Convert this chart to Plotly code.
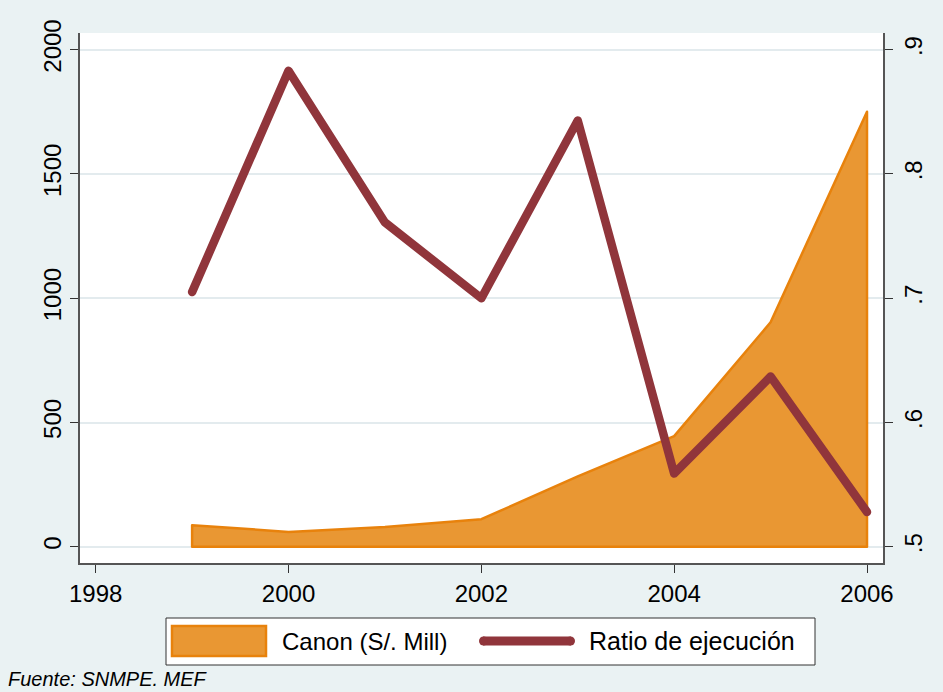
import plotly.graph_objects as go

# ---- data ----
years = [1999, 2000, 2001, 2002, 2003, 2004, 2005, 2006]
canon = [87, 60, 80, 111, 283, 445, 903, 1750]
ratio = [0.705, 0.883, 0.761, 0.700, 0.843, 0.559, 0.637, 0.528]
x_ticks = [1998, 2000, 2002, 2004, 2006]
y_ticks = [0, 500, 1000, 1500, 2000]
y2_ticks = [0.5, 0.6, 0.7, 0.8, 0.9]
y2_labels = [".5", ".6", ".7", ".8", ".9"]
legend_labels = ["Canon (S/. Mill)", "Ratio de ejecución"]
note = "Fuente: SNMPE. MEF"

# ---- style ----
W, H = 943, 692
L, R, T, B = 80, 60, 33, 129
BG = "#EAF2F3"
GRID = "#E3EBEE"
AXIS = "#555555"
FILL = "rgb(233,151,51)"
EDGE = "rgb(232,130,12)"
LINE = "rgb(144,53,59)"
FONT = "Liberation Sans, Arial, sans-serif"
FS = 24

pw, ph = W - L - R, H - T - B
def px(x):
    return (x - L) / pw
def py(y):
    return (H - B - y) / ph

fig = go.Figure()

# area (closed polygon so the outline runs around the whole shape)
poly_x = [years[0]] + years + [years[-1], years[0]]
poly_y = [0] + canon + [0, 0]
fig.add_trace(go.Scatter(
    x=poly_x, y=poly_y, mode="lines", fill="toself",
    fillcolor=FILL, line=dict(color=EDGE, width=2.5),
    name=legend_labels[0], showlegend=False, hoverinfo="skip"))

fig.add_trace(go.Scatter(
    x=years, y=ratio, mode="lines", yaxis="y2",
    line=dict(color=LINE, width=8.5),
    name=legend_labels[1], showlegend=False))

axis_common = dict(zeroline=False, showline=True, linecolor=AXIS, linewidth=1.5,
                   ticks="outside", ticklen=8, tickcolor="#333333", tickwidth=1.2,
                   tickfont=dict(size=FS))

fig.update_layout(
    width=W, height=H,
    margin=dict(l=L, r=R, t=T, b=B),
    paper_bgcolor=BG, plot_bgcolor="white",
    font=dict(family=FONT, size=FS, color="black"),
    showlegend=False,
    xaxis=dict(range=[1997.837, 2006.166], tickvals=x_ticks, showgrid=False,
               **axis_common),
    yaxis=dict(range=[-65.2, 2066.8], tickvals=y_ticks,
               showgrid=True, gridcolor=GRID, gridwidth=2,
               tickangle=-90, **axis_common),
    yaxis2=dict(range=[0.4870, 0.9134], tickvals=y2_ticks, ticktext=y2_labels,
                overlaying="y", side="right", showgrid=False,
                tickangle=-90, **axis_common),
)

# ---- manual legend ----
shapes = [
    dict(type="rect", xref="paper", yref="paper",
         x0=px(166), x1=px(815), y0=py(665), y1=py(618),
         fillcolor="white", line=dict(color="#333333", width=1)),
    dict(type="rect", xref="paper", yref="paper",
         x0=px(172), x1=px(266), y0=py(656), y1=py(626),
         fillcolor=FILL, line=dict(color=EDGE, width=2.5)),
    dict(type="line", xref="paper", yref="paper",
         x0=px(483), x1=px(571), y0=py(641), y1=py(641),
         line=dict(color=LINE, width=9)),
    dict(type="circle", xref="paper", yref="paper",
         x0=px(479), x1=px(488), y0=py(645.5), y1=py(636.5),
         fillcolor=LINE, line=dict(width=0)),
    dict(type="circle", xref="paper", yref="paper",
         x0=px(566), x1=px(575), y0=py(645.5), y1=py(636.5),
         fillcolor=LINE, line=dict(width=0)),
]
annotations = [
    dict(text=legend_labels[0], xref="paper", yref="paper",
         x=px(280), y=py(641), xanchor="left", yanchor="middle",
         showarrow=False, font=dict(size=FS)),
    dict(text=legend_labels[1], xref="paper", yref="paper",
         x=px(587), y=py(641), xanchor="left", yanchor="middle",
         showarrow=False, font=dict(size=25)),
    dict(text="<i>" + note + "</i>", xref="paper", yref="paper",
         x=px(6), y=py(679), xanchor="left", yanchor="middle",
         showarrow=False, font=dict(size=20)),
]
fig.update_layout(shapes=shapes, annotations=annotations)

post = (
    "document.body.style.margin='0';document.body.style.padding='0';"
    "var s=document.createElement('style');"
    "s.textContent='.js-line{stroke-linejoin:round!important;stroke-linecap:round!important}';"
    "document.head.appendChild(s);"
)
fig.write_html("out.html", post_script=post, config={"displayModeBar": False})
